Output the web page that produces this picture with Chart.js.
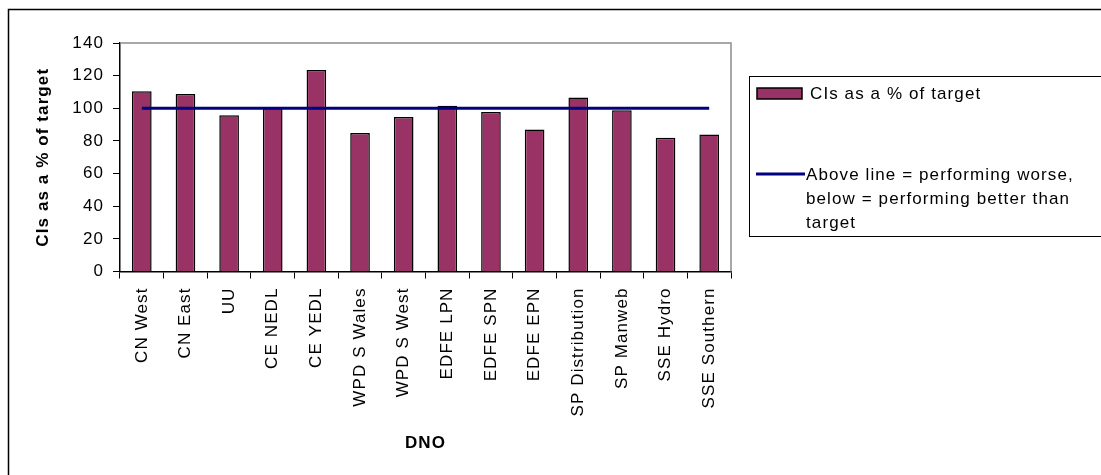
<!DOCTYPE html>
<html>
<head>
<meta charset="utf-8">
<script src="https://cdn.jsdelivr.net/npm/chart.js@4/dist/chart.umd.min.js"></script>
<style>
   body { margin: 0; background: #fff; }
   canvas { display: block; }
</style>
</head>
<body>
<canvas id="chart" width="1101" height="475"></canvas>
<script>
const categories = ['CN West', 'CN East', 'UU', 'CE NEDL', 'CE YEDL', 'WPD S Wales', 'WPD S West', 'EDFE LPN', 'EDFE SPN', 'EDFE EPN', 'SP Distribution', 'SP Manweb', 'SSE Hydro', 'SSE Southern']
const ciValues = [110.5, 108.8, 95.8, 100, 123.5, 84.8, 94.7, 101.6, 97.8, 87, 106.6, 98.8, 81.9, 84]
const targetValues = [100, 100, 100, 100, 100, 100, 100, 100, 100, 100, 100, 100, 100, 100]
const yTicks = [0, 20, 40, 60, 80, 100, 120, 140]

const barLabel = 'CIs as a % of target'
const lineLabel = ['Above line = performing worse,', 'below = performing better than', 'target']
const yTitle = 'CIs as a % of target'
const xTitle = 'DNO'

const barColor = '#993366'
const lineColor = '#000080'
const fontFamily = '"Liberation Sans", Arial, sans-serif'
const fontSize = 17
const spacing = '1.1px'

// the reference text is set a bit wide, so widen canvas text
const letterSpacing = {
   id: 'letterSpacing',
   beforeUpdate: chart => { chart.ctx.letterSpacing = spacing },
   beforeDraw: chart => { chart.ctx.letterSpacing = spacing }
}

// outer frame, grey plot border and the boxed legend
const frame = {
   id: 'frame',
   beforeDatasetsDraw: chart => {
      const { ctx, chartArea: a } = chart
      ctx.save()
      ctx.strokeStyle = '#8c8c8c'
      ctx.lineWidth = 1.5
      ctx.beginPath()
      ctx.moveTo(a.left, a.top)
      ctx.lineTo(a.right, a.top)
      ctx.lineTo(a.right, a.bottom)
      ctx.stroke()
      ctx.restore()
   },
   afterDraw: chart => {
      const { ctx } = chart
      ctx.save()
      ctx.strokeStyle = '#000'
      ctx.lineWidth = 1.5
      ctx.beginPath()
      ctx.moveTo(8.5, 480)
      ctx.lineTo(8.5, 9.5)
      ctx.lineTo(1110, 9.5)
      ctx.stroke()

      // legend box
      ctx.lineWidth = 1
      ctx.strokeRect(749.5, 76.5, 400, 160)

      ctx.letterSpacing = spacing
      ctx.font = fontSize + 'px ' + fontFamily
      ctx.fillStyle = '#000'
      ctx.textAlign = 'left'
      ctx.textBaseline = 'middle'

      const ds = chart.data.datasets
      ctx.fillStyle = ds[0].backgroundColor
      ctx.fillRect(757, 88, 45, 11)
      ctx.lineWidth = 1.5
      ctx.strokeRect(757, 88, 45, 11)
      ctx.fillStyle = '#000'
      ctx.fillText(ds[0].label, 810, 94)

      ctx.strokeStyle = ds[1].borderColor
      ctx.lineWidth = 3
      ctx.beginPath()
      ctx.moveTo(756, 174)
      ctx.lineTo(805, 174)
      ctx.stroke()
      ds[1].label.forEach((line, i) => ctx.fillText(line, 806, 175 + i * 24))
      ctx.restore()
   }
}

const ctx = document.getElementById('chart').getContext('2d')
new Chart(ctx, {
   type: 'bar',
   data: {
      labels: categories,
      datasets: [
         {
            label: barLabel,
            data: ciValues,
            backgroundColor: barColor,
            borderColor: '#000',
            borderWidth: 1.5,
            barPercentage: 0.45,
            categoryPercentage: 1,
            order: 1
         },
         {
            type: 'line',
            label: lineLabel,
            data: targetValues,
            borderColor: lineColor,
            borderWidth: 3,
            pointRadius: 0,
            fill: false,
            order: 0
         }
      ]
   },
   options: {
      responsive: false,
      animation: false,
      layout: { padding: { left: 0, right: 370, top: 43, bottom: 0 } },
      plugins: {
         legend: { display: false },
         tooltip: { enabled: false }
      },
      scales: {
         x: {
            grid: { drawOnChartArea: false, drawTicks: true, tickLength: 7, color: '#000', offset: true },
            border: { display: true, color: '#000', width: 1.5 },
            ticks: {
               minRotation: 90,
               maxRotation: 90,
               autoSkip: false,
               padding: 9,
               color: '#000',
               font: { family: fontFamily, size: fontSize }
            },
            title: {
               display: true,
               text: xTitle,
               color: '#000',
               font: { family: fontFamily, size: fontSize, weight: 'bold' },
               padding: { top: 0, bottom: 21 }
            },
            afterFit: scale => { scale.height = 203.5 }
         },
         y: {
            min: 0,
            max: 140,
            afterBuildTicks: scale => { scale.ticks = yTicks.map(v => ({ value: v })) },
            grid: { drawOnChartArea: false, drawTicks: true, tickLength: 7, color: '#000' },
            border: { display: true, color: '#000', width: 1.5 },
            ticks: {
               padding: 9,
               color: '#000',
               font: { family: fontFamily, size: fontSize }
            },
            title: {
               display: true,
               text: yTitle,
               color: '#000',
               font: { family: fontFamily, size: fontSize, weight: 'bold' },
               padding: { top: 33, bottom: 0 }
            },
            afterFit: scale => { scale.width = 120 }
         }
      }
   },
   plugins: [letterSpacing, frame]
})
</script>
</body>
</html>
